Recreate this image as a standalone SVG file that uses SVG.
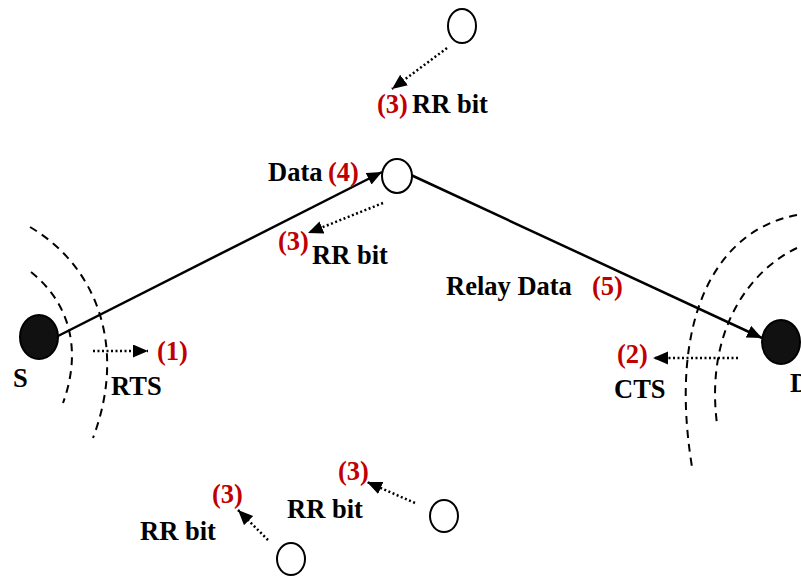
<svg xmlns="http://www.w3.org/2000/svg" width="801" height="576" viewBox="0 0 801 576">
<defs>
<marker id="ah" markerWidth="16" markerHeight="14" refX="15" refY="6.5" orient="auto" markerUnits="userSpaceOnUse">
<path d="M0,0 L15,6.5 L0,13 z" fill="#000"/>
</marker>
<style>
.lbl{font-family:"Liberation Serif","Times New Roman",serif;font-weight:bold;font-size:26.5px;fill:#000}
.num{font-family:"Liberation Serif","Times New Roman",serif;font-weight:bold;font-size:26.5px;fill:#C00000}
.node{fill:#fff;stroke:#000;stroke-width:2}
.blk{fill:#111;stroke:#000;stroke-width:2}
.solid{fill:none;stroke:#000;stroke-width:2.5}
.dot{fill:none;stroke:#000;stroke-width:2.5;stroke-dasharray:2 2.5}
.dash{fill:none;stroke:#000;stroke-width:2;stroke-dasharray:8 6}
</style>
</defs>
<rect width="801" height="576" fill="#fff"/>
<g id="ranges">
<path class="dash" d="M31,272 C66,300 84,345 63,403"/>
<path class="dash" d="M30,227 C95,265 128,345 93,438"/>
<path class="dash" d="M797,215 C715,230 668,320 692,467"/>
<path class="dash" d="M797,248 C750,270 705,330 717,424"/>
</g>
<g id="connectors">
<line class="solid" x1="58" y1="336" x2="382" y2="172" marker-end="url(#ah)"/>
<line class="solid" x1="411" y1="175" x2="762" y2="338" marker-end="url(#ah)"/>
<line class="dot" x1="447" y1="48" x2="392" y2="89" marker-end="url(#ah)"/>
<line class="dot" x1="383" y1="203" x2="308" y2="233" marker-end="url(#ah)"/>
<line class="dot" x1="93" y1="351" x2="148" y2="351" marker-end="url(#ah)"/>
<line class="dot" x1="738" y1="358" x2="653" y2="358" marker-end="url(#ah)"/>
<line class="dot" x1="415" y1="503" x2="367" y2="482" marker-end="url(#ah)"/>
<line class="dot" x1="268" y1="540" x2="238" y2="510" marker-end="url(#ah)"/>
</g>
<g id="S">
<ellipse class="blk" cx="39" cy="337" rx="19" ry="22"/>
<text class="lbl" x="13" y="387">S</text>
</g>
<g id="D">
<ellipse class="blk" cx="781" cy="342" rx="19" ry="22"/>
<text class="lbl" x="790" y="392">D</text>
</g>
<g id="relay">
<ellipse class="node" cx="397" cy="176" rx="15" ry="17"/>
</g>
<g id="n_top">
<ellipse class="node" cx="462" cy="26" rx="14" ry="17"/>
</g>
<g id="n_bot_right">
<ellipse class="node" cx="444" cy="516" rx="14" ry="16"/>
</g>
<g id="n_bot_left">
<ellipse class="node" cx="291" cy="559" rx="14" ry="16"/>
</g>
<g id="labels">
<text class="num" x="377" y="113">(3)</text>
<text class="lbl" x="412" y="113">RR bit</text>
<text class="lbl" x="268" y="181">Data</text>
<text class="num" x="328" y="181">(4)</text>
<text class="num" x="278" y="250">(3)</text>
<text class="lbl" x="312" y="264">RR bit</text>
<text class="lbl" x="446" y="295">Relay Data</text>
<text class="num" x="592" y="295">(5)</text>
<text class="num" x="157" y="360">(1)</text>
<text class="lbl" x="111" y="395">RTS</text>
<text class="num" x="617" y="363">(2)</text>
<text class="lbl" x="614" y="398">CTS</text>
<text class="num" x="338" y="480">(3)</text>
<text class="lbl" x="287" y="518">RR bit</text>
<text class="num" x="212" y="503">(3)</text>
<text class="lbl" x="140" y="540">RR bit</text>
</g>
</svg>
